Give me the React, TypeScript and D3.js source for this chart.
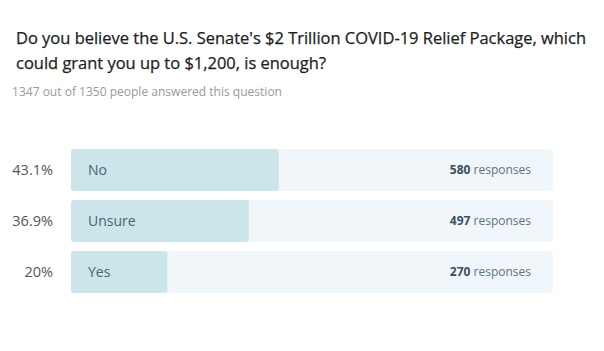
import React from "react";
import * as d3 from "d3";

const categories = ["No", "Unsure", "Yes"];
const percents = [43.1, 36.9, 20];
const percentLabels = ["43.1%", "36.9%", "20%"];
const counts = [580, 497, 270];
const titleLines = [
  "Do you believe the U.S. Senate's $2 Trillion COVID-19 Relief Package, which",
  "could grant you up to $1,200, is enough?",
];
const subtitle = "1347 out of 1350 people answered this question";

const W = 604;
const H = 351;
const FONT = "'Segoe UI', 'Open Sans', 'Noto Sans', sans-serif";

export default function App() {
  const x = d3.scaleLinear().domain([0, 100]).range([71, 553]);
  const y = d3.scaleBand<string>().domain(categories).range([149, 293]).paddingInner(9 / 51).paddingOuter(0);
  const bh = y.bandwidth();
  const titleWidths = [570, 310];
  return (
    <svg width={W} height={H} style={{ position: "absolute", left: 0, top: 0, background: "#fff" }}>
      <rect x={0} y={0} width={W} height={H} fill="#fff" />
      {titleLines.map((t, i) => (
        <text
          key={i}
          x={16}
          y={44 + i * 25}
          fontFamily={FONT}
          fontSize={15.5}
          fill="#1e1e1e"
          fontWeight={500}
          stroke="#1e1e1e"
          strokeWidth={0.25}
          textLength={titleWidths[i]}
          lengthAdjust="spacingAndGlyphs"
        >
          {t}
        </text>
      ))}
      <text x={12} y={96} fontFamily={FONT} fontSize={12} fill="#9a9a9a" textLength={270} lengthAdjust="spacingAndGlyphs">
        {subtitle}
      </text>
      {categories.map((c, i) => {
        const yy = y(c)!;
        return (
          <g key={c}>
            <rect x={x(0)} y={yy} width={x(100) - x(0)} height={bh} rx={4} fill="#f0f6f9" />
            <rect x={x(0)} y={yy} width={x(percents[i]) - x(0)} height={bh} rx={3} fill="#cbe5ea" />
            <text x={53} y={yy + bh / 2} dy="0.35em" textAnchor="end" fontFamily={FONT} fontSize={14.5} fill="#555">
              {percentLabels[i]}
            </text>
            <text x={88} y={yy + bh / 2} dy="0.35em" fontFamily={FONT} fontSize={14} fill="#4e6373">
              {c}
            </text>
            <text x={531} y={yy + bh / 2} dy="0.35em" textAnchor="end" fontFamily={FONT} fontSize={12} fill="#5f7282">
              <tspan fontWeight={700} fill="#3a5063">{counts[i]}</tspan>
              <tspan> responses</tspan>
            </text>
          </g>
        );
      })}
    </svg>
  );
}
